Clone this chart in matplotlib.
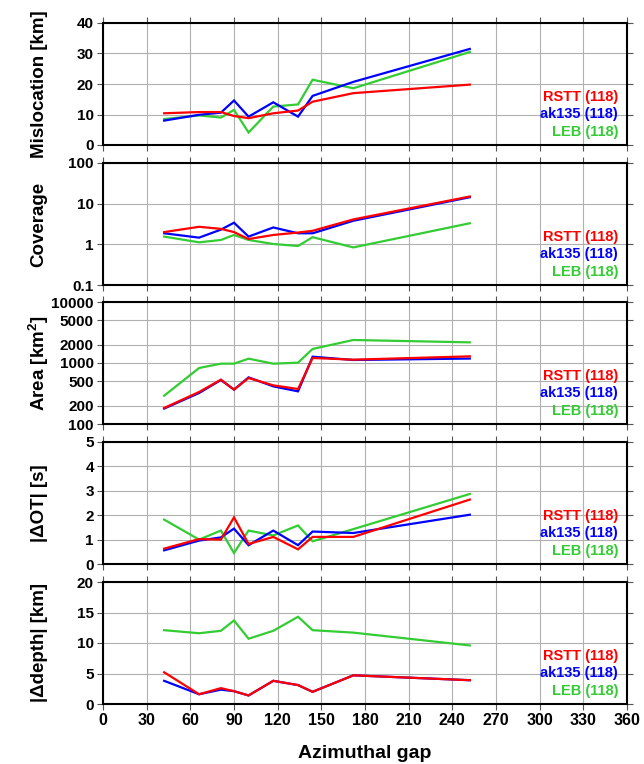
import matplotlib
matplotlib.use("Agg")
import matplotlib.pyplot as plt
import numpy as np

plt.rcParams['font.family'] = ['Liberation Sans', 'DejaVu Sans']
plt.rcParams['font.weight'] = 'bold'
plt.rcParams['mathtext.fontset'] = 'custom'
plt.rcParams['mathtext.rm'] = 'Liberation Sans:bold'
plt.rcParams['mathtext.bf'] = 'Liberation Sans:bold'
plt.rcParams['mathtext.it'] = 'Liberation Sans:bold'

# Azimuthal gap (x) values
gap = [42, 66, 81, 90, 100, 117, 134, 144, 172, 252]

# Mislocation [km]
misloc_rstt = [10.4, 10.8, 10.8, 9.5, 8.8, 10.4, 11.3, 14.2, 17.0, 19.8]
misloc_ak135 = [8.0, 9.9, 10.6, 14.6, 9.3, 14.0, 9.3, 16.1, 20.7, 31.5]
misloc_leb = [8.5, 9.7, 9.0, 11.5, 4.1, 12.6, 13.3, 21.4, 18.6, 30.5]

# Coverage
cov_rstt = [2.0, 2.7, 2.4, 2.0, 1.35, 1.7, 1.95, 2.15, 4.1, 15.0]
cov_ak135 = [1.87, 1.46, 2.3, 3.4, 1.55, 2.6, 1.87, 1.87, 3.8, 14.4]
cov_leb = [1.55, 1.12, 1.28, 1.7, 1.28, 1.02, 0.91, 1.5, 0.84, 3.3]

# Area [km^2]
area_rstt = [183, 335, 533, 366, 567, 430, 375, 1208, 1134, 1285]
area_ak135 = [179, 322, 526, 366, 581, 414, 343, 1269, 1120, 1183]
area_leb = [291, 828, 975, 975, 1178, 975, 1013, 1700, 2383, 2180]

# |dOT| [s]
dot_rstt = [0.63, 1.02, 1.0, 1.91, 0.82, 1.11, 0.60, 1.11, 1.11, 2.64]
dot_ak135 = [0.56, 0.96, 1.09, 1.45, 0.77, 1.37, 0.77, 1.33, 1.27, 2.02]
dot_leb = [1.82, 1.0, 1.37, 0.45, 1.37, 1.17, 1.58, 0.93, 1.43, 2.87]

# |ddepth| [km]
ddep_rstt = [5.2, 1.6, 2.6, 2.1, 1.4, 3.8, 3.1, 2.0, 4.7, 3.9]
ddep_ak135 = [3.8, 1.6, 2.35, 2.1, 1.4, 3.8, 3.1, 2.0, 4.7, 3.9]
ddep_leb = [12.1, 11.6, 12.0, 13.7, 10.7, 12.0, 14.3, 12.1, 11.7, 9.6]

labels = ['RSTT (118)', 'ak135 (118)', 'LEB (118)']
colors = ['#ff0000', '#0000ff', '#33cc33']

xticks = list(range(0, 361, 30))

panels = [
    dict(data=[misloc_rstt, misloc_ak135, misloc_leb], ylabel='Mislocation [km]',
         log=False, ylim=(0, 40), yticks=[0, 10, 20, 30, 40], yticklabels=['0', '10', '20', '30', '40']),
    dict(data=[cov_rstt, cov_ak135, cov_leb], ylabel='Coverage',
         log=True, ylim=(0.1, 100), yticks=[0.1, 1, 10, 100], yticklabels=['0.1', '1', '10', '100']),
    dict(data=[area_rstt, area_ak135, area_leb], ylabel=r'Area [km$^2$]',
         log=True, ylim=(100, 10000), yticks=[100, 200, 500, 1000, 2000, 5000, 10000],
         yticklabels=['100', '200', '500', '1000', '2000', '5000', '10000']),
    dict(data=[dot_rstt, dot_ak135, dot_leb], ylabel='|\u0394OT| [s]',
         log=False, ylim=(0, 5), yticks=[0, 1, 2, 3, 4, 5], yticklabels=['0', '1', '2', '3', '4', '5']),
    dict(data=[ddep_rstt, ddep_ak135, ddep_leb], ylabel='|\u0394depth| [km]',
         log=False, ylim=(0, 20), yticks=[0, 5, 10, 15, 20], yticklabels=['0', '5', '10', '15', '20']),
]

W, H = 644, 764
fig = plt.figure(figsize=(W / 100, H / 100), dpi=100)

left_px, right_px = 103, 627
tops = [23, 163, 302, 442, 582]
ph = 122

for i, p in enumerate(panels):
    top = tops[i]
    ax = fig.add_axes([left_px / W, 1 - (top + ph) / H, (right_px - left_px) / W, ph / H])
    if p['log']:
        ax.set_yscale('log')
    ax.set_xlim(0, 360)
    ax.set_ylim(*p['ylim'])
    ax.set_xticks(xticks)
    ax.set_yticks(p['yticks'])
    ax.minorticks_off()
    ax.set_yticklabels(p['yticklabels'], fontsize=11, fontweight='bold')
    if i == len(panels) - 1:
        ax.set_xticklabels([str(t) for t in xticks], fontsize=11.5, fontweight='bold')
        ax.set_xlabel('Azimuthal gap', fontsize=14, fontweight='bold', labelpad=12)
    else:
        ax.set_xticklabels([])
    ax.grid(True, color='#b0b0b0', linewidth=0.8)
    ax.set_axisbelow(True)
    ax.tick_params(direction='out', length=4.5, width=0.8, color='#555555',
                   top=True, right=True, pad=2)
    for s in ax.spines.values():
        s.set_linewidth(1.5)
    # draw order: green, blue, red
    for k in [2, 1, 0]:
        ax.plot(gap, p['data'][k], color=colors[k], linewidth=1.6, solid_joinstyle='miter')
    ax.text(-0.122, 0.5, p['ylabel'], transform=ax.transAxes, rotation=90,
            ha='center', va='center', fontsize=13.5, fontweight='bold')
    for k, yy in enumerate([0.393, 0.254, 0.107]):
        ax.text(0.983, yy, labels[k], transform=ax.transAxes, ha='right', va='center',
                color=colors[k], fontsize=10.5, fontweight='bold')

fig.savefig('out.png', dpi=100)
